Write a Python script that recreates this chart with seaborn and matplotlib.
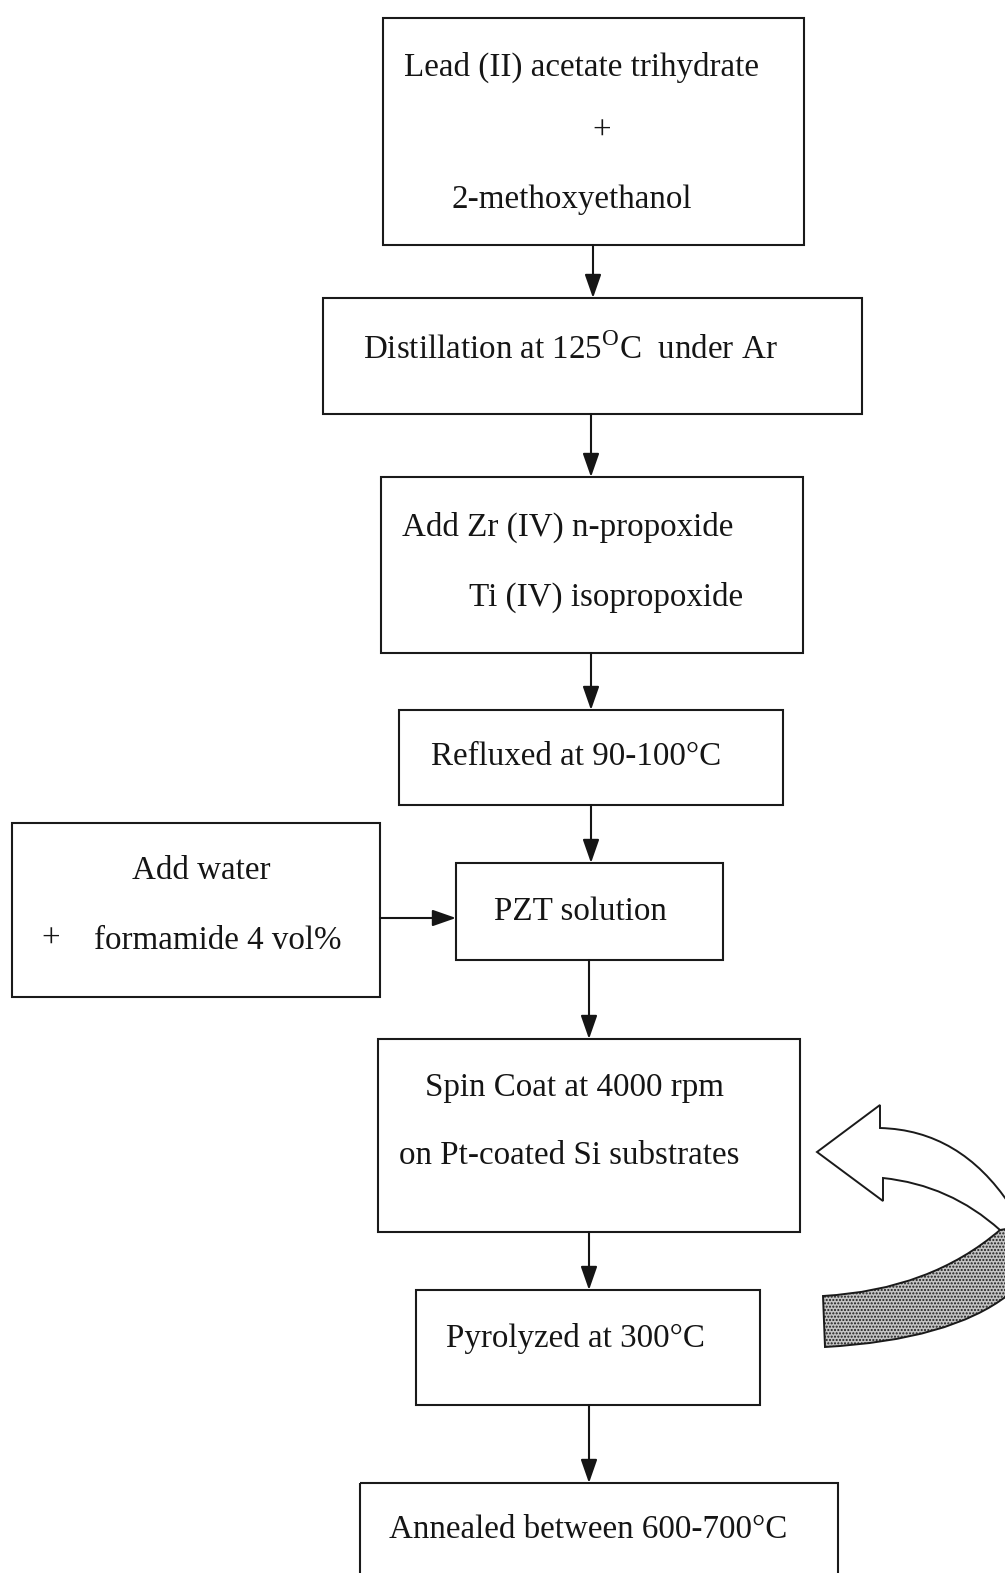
import matplotlib.pyplot as plt
import matplotlib.patches as patches
from matplotlib.path import Path
import seaborn as sns

# texts of the flow chart, one list per box
lead_lines = ["Lead (II) acetate trihydrate", "+", "2-methoxyethanol"]
distill_lines = [r"Distillation at 125$^{\mathrm{O}}$C  under Ar"]
add_zr_lines = ["Add Zr (IV) n-propoxide", "Ti (IV) isopropoxide"]
reflux_lines = ["Refluxed at 90-100°C"]
water_lines = ["Add water", "+", "formamide 4 vol%"]
pzt_lines = ["PZT solution"]
spin_lines = ["Spin Coat at 4000 rpm", "on Pt-coated Si substrates"]
pyro_lines = ["Pyrolyzed at 300°C"]
anneal_lines = ["Annealed between 600-700°C"]

# layout (pixels): box x0, y0, x1, y1
boxes = [
    (383, 18, 804, 245),
    (323, 298, 862, 414),
    (381, 477, 803, 653),
    (399, 710, 783, 805),
    (12, 823, 380, 997),
    (456, 863, 723, 960),
    (378, 1039, 800, 1232),
    (416, 1290, 760, 1405),
    (360, 1483, 838, 1590),
]
# text anchors (x, y, ha) per line
anchors = [
    [(582, 67, "center"), (602, 132, "center"), (572, 200, "center")],
    [(363, 350, "left")],
    [(402, 527, "left"), (469, 597, "left")],
    [(431, 757, "left")],
    [(201, 871, "center"), (51, 939, "center"), (94, 941, "left")],
    [(494, 912, "left")],
    [(425, 1088, "left"), (399, 1156, "left")],
    [(446, 1338, "left")],
    [(389, 1530, "left")],
]
all_lines = [lead_lines, distill_lines, add_zr_lines, reflux_lines, water_lines,
             pzt_lines, spin_lines, pyro_lines, anneal_lines]

# arrows (start -> end)
arrows = [
    ((593, 245), (593, 298)),
    ((591, 414), (591, 477)),
    ((591, 653), (591, 710)),
    ((591, 805), (591, 863)),
    ((589, 960), (589, 1039)),
    ((589, 1232), (589, 1290)),
    ((589, 1405), (589, 1483)),
    ((380, 918), (456, 918)),
]

sns.set_theme(style="white")
plt.rcParams["font.family"] = ["Liberation Serif", "DejaVu Serif"]
plt.rcParams["mathtext.fontset"] = "custom"
plt.rcParams["mathtext.rm"] = "Liberation Serif"

fig = plt.figure(figsize=(10.05, 15.73), dpi=100)
ax = fig.add_axes([0, 0, 1, 1])
ax.set_xlim(0, 1005)
ax.set_ylim(1573, 0)
ax.axis("off")

for (x0, y0, x1, y1), lines, anc in zip(boxes, all_lines, anchors):
    ax.add_patch(patches.Rectangle((x0, y0), x1 - x0, y1 - y0, fill=False,
                                   edgecolor="#1a1a1a", linewidth=1.5))
    for txt, (tx, ty, ha) in zip(lines, anc):
        ax.text(tx, ty, txt, ha=ha, va="center", fontsize=23.8, color="#151515")

for (sx, sy), (ex, ey) in arrows:
    ax.annotate("", xy=(ex, ey), xytext=(sx, sy),
                arrowprops=dict(arrowstyle="-|>,head_length=1.2,head_width=0.42",
                                color="#151515", lw=1.5, shrinkA=0, shrinkB=0))

# curved return arrow on the right
white_part = Path(
    [(817, 1152), (880, 1105), (880, 1128), (960, 1130), (1010, 1205),
     (1010, 1232), (1000, 1230), (950, 1185), (883, 1178), (883, 1201), (817, 1152)],
    [Path.MOVETO, Path.LINETO, Path.LINETO, Path.CURVE3, Path.CURVE3,
     Path.LINETO, Path.LINETO, Path.CURVE3, Path.CURVE3, Path.LINETO, Path.CLOSEPOLY])
ax.add_patch(patches.PathPatch(white_part, facecolor="white", edgecolor="#1a1a1a", lw=1.4))

shaded_part = Path(
    [(823, 1296), (930, 1290), (1000, 1230), (1012, 1228), (1012, 1294),
     (1008, 1295), (950, 1340), (825, 1347), (823, 1296)],
    [Path.MOVETO, Path.CURVE3, Path.CURVE3, Path.LINETO, Path.LINETO,
     Path.LINETO, Path.CURVE3, Path.CURVE3, Path.CLOSEPOLY])
ax.add_patch(patches.PathPatch(shaded_part, facecolor="#c4c4c4", edgecolor="#1a1a1a",
                               lw=1.4, hatch="....."))

fig.savefig("out.png", dpi=100, facecolor="white")
